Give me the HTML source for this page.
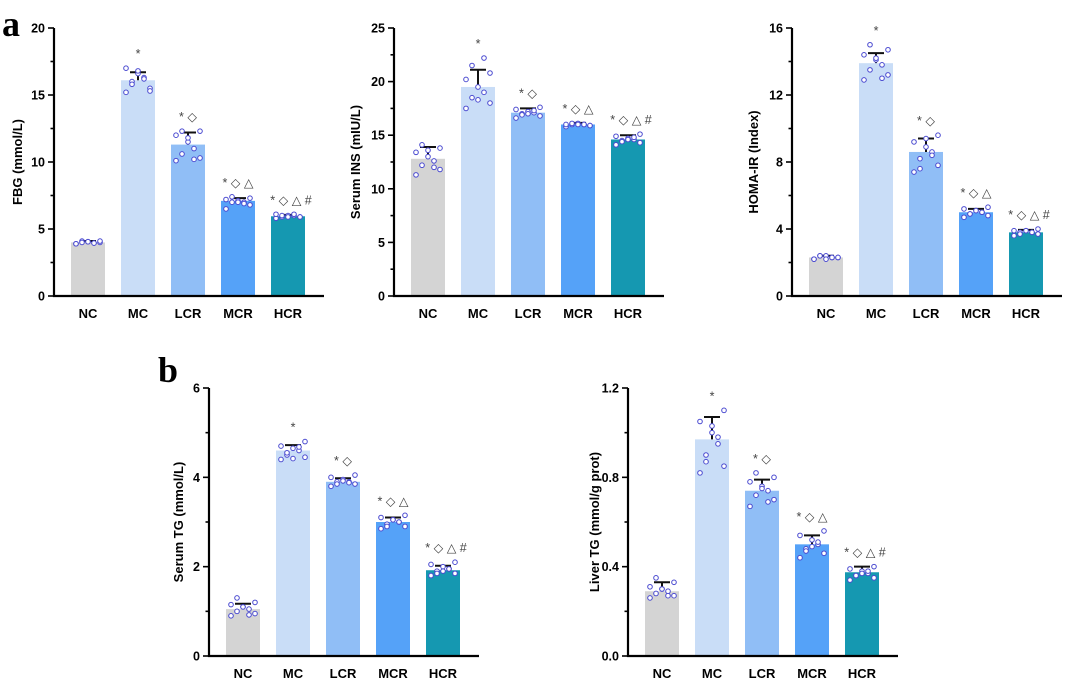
<!DOCTYPE html>
<html><head><meta charset="utf-8"><style>
html,body{margin:0;padding:0;background:#fff}
svg{display:block;font-family:"Liberation Sans",Arial,sans-serif}
</style></head><body>
<svg id="fig" width="1065" height="680" viewBox="0 0 1065 680" xmlns="http://www.w3.org/2000/svg">
<text x="2" y="36" font-family="Liberation Serif" font-weight="bold" font-size="36">a</text>
<text x="158" y="382" font-family="Liberation Serif" font-weight="bold" font-size="36">b</text>
</svg>
<script>
const categories = ["NC","MC","LCR","MCR","HCR"];
const fbgMeans = [4.0,16.1,11.3,7.1,5.95];
const fbgErr = [0.1,0.6,0.9,0.2,0.1];
const fbgPts = [[3.9,4.0,4.1,3.95,4.05,3.9,4.1,4.0,3.95,4.05],[15.2,15.5,16.0,16.3,16.6,17.0,15.3,15.8,16.2,16.8],[10.1,10.3,10.6,11.0,11.5,12.0,12.3,12.3,10.2,11.8],[6.5,6.8,7.0,7.0,7.1,7.2,7.3,7.4,6.9,7.0],[5.8,5.9,5.9,6.0,6.0,6.1,5.9,6.0,6.1,5.9]];
const insMeans = [12.8,19.5,17.1,16.0,14.6];
const insErr = [1.1,1.6,0.4,0.15,0.4];
const insPts = [[11.3,11.8,12.2,12.6,13.0,13.4,13.8,14.1,12.0,13.6],[17.5,18.0,18.5,19.0,19.5,20.2,20.8,21.5,22.2,18.3],[16.6,16.8,17.0,17.1,17.2,17.4,17.6,16.9,17.3,17.0],[15.8,15.9,16.0,16.0,16.1,16.0,15.9,16.1,16.0,16.0],[14.1,14.3,14.5,14.6,14.7,14.9,15.1,14.4,14.8,14.6]];
const homaMeans = [2.3,13.9,8.6,5.0,3.8];
const homaErr = [0.1,0.6,0.8,0.2,0.15];
const homaPts = [[2.2,2.3,2.4,2.3,2.4,2.2,2.3,2.4,2.3,2.2],[12.9,13.2,13.5,13.8,14.1,14.4,14.7,15.0,13.0,14.2],[7.4,7.8,8.2,8.6,8.9,9.2,9.6,7.6,8.4,9.4],[4.7,4.8,4.9,5.0,5.1,5.2,5.3,4.9,5.0,5.1],[3.6,3.7,3.8,3.8,3.9,3.9,4.0,3.7,3.8,3.9]];
const stgMeans = [1.05,4.6,3.9,3.0,1.92];
const stgErr = [0.12,0.12,0.08,0.1,0.1];
const stgPts = [[0.9,0.95,1.0,1.05,1.1,1.15,1.2,1.3,0.92,1.1],[4.4,4.45,4.5,4.6,4.65,4.7,4.8,4.55,4.68,4.42],[3.8,3.85,3.9,3.9,3.95,4.0,4.05,3.85,3.88,3.92],[2.85,2.9,2.95,3.0,3.05,3.1,3.15,2.9,3.0,3.05],[1.8,1.85,1.9,1.95,2.0,2.05,2.1,1.85,1.95,1.9]];
const ltgMeans = [0.29,0.97,0.74,0.50,0.375];
const ltgErr = [0.04,0.1,0.05,0.04,0.025];
const ltgPts = [[0.26,0.27,0.28,0.29,0.30,0.31,0.33,0.35,0.27,0.30],[0.82,0.85,0.9,0.95,1.0,1.05,1.1,0.87,0.98,1.03],[0.67,0.7,0.72,0.74,0.76,0.78,0.8,0.82,0.69,0.75],[0.44,0.46,0.48,0.5,0.52,0.54,0.56,0.47,0.51,0.49],[0.34,0.35,0.36,0.37,0.38,0.39,0.4,0.36,0.38,0.37]];
const marks = ["","*","* ◇","* ◇ △","* ◇ △ #"];
const colors = ["#d4d4d4","#c9ddf7","#90bef6","#55a2f8","#1598b1"];
const jit = [-12,12,-6,6,0,-12,12,-6,6,0];

const svg = document.getElementById('fig');
const NS = "http://www.w3.org/2000/svg";
function el(tag, attrs, parent){const e=document.createElementNS(NS,tag);for(const k in attrs)e.setAttribute(k,attrs[k]);(parent||svg).appendChild(e);return e;}

function panel(name, ax, top, bot, ymax, major, minor, fmt, title, titleX, means, errs, pts){
  const g = el('g',{});
  
  
  const y = v => bot - v/ymax*(bot-top);
  const xc = i => ax + 34 + i*50;
  for(let i=0;i<categories.length;i++){
    const b = el('rect',{x:xc(i)-17,y:y(means[i]),width:34,height:bot-y(means[i]),fill:colors[i]},g);
    
    
    const e1=y(means[i]+errs[i]);
    const eb = el('path',{d:`M${xc(i)} ${y(means[i])}V${e1}M${xc(i)-8} ${e1}H${xc(i)+8}`,stroke:'#111','stroke-width':2,fill:'none'},g);
    
    
    pts[i].forEach((v,j)=>{
      const c = el('circle',{cx:xc(i)+jit[j],cy:y(v),r:2.3,fill:'#fff',stroke:'#4a4ad0','stroke-width':1},g);
      
      
    });
    if(marks[i]){
      const ty = Math.min(y(means[i]+errs[i]), y(Math.max(...pts[i]))) - 10;
      const t = el('text',{x:xc(i)+(i==4?3:0),y:ty,'text-anchor':'middle','font-size':12.5,fill:'#444'},g);
      t.textContent = marks[i];
      
      
    }
    const l = el('text',{x:xc(i),y:bot+22,'text-anchor':'middle','font-size':13,'font-weight':'bold',fill:'#000'},g);
    l.textContent = categories[i];
    
    
  }
  const axis = el('path',{d:`M${ax} ${top}V${bot}H${ax+270}`,stroke:'#000','stroke-width':2.2,fill:'none'},g);
  
  
  for(let v=0; v<=ymax+1e-9; v+=minor){
    const isMaj = Math.abs(v/major - Math.round(v/major))<1e-6;
    el('line',{x1:ax-(isMaj?6:3.5),x2:ax,y1:y(v),y2:y(v),stroke:'#000','stroke-width':1.6},g);
    if(isMaj){
      const t = el('text',{x:ax-9,y:y(v)+4.5,'text-anchor':'end','font-size':12.5,'font-weight':'bold'},g);
      t.textContent = fmt(v);
      
      
    }
  }
  const yt = el('text',{x:titleX,y:(top+bot)/2,'text-anchor':'middle','font-size':13,'font-weight':'bold',transform:`rotate(-90 ${titleX} ${(top+bot)/2})`},g);
  yt.textContent = title;
  
  
}
const i0 = v => String(Math.round(v));
const f1 = v => v.toFixed(1);
panel('fbg-chart',54,28,296,20,5,2.5,i0,'FBG (mmol/L)',22,fbgMeans,fbgErr,fbgPts);
panel('serum-ins-chart',394,28,296,25,5,2.5,i0,'Serum INS (mIU/L)',360,insMeans,insErr,insPts);
panel('homa-ir-chart',792,28,296,16,4,2,i0,'HOMA-IR (Index)',758,homaMeans,homaErr,homaPts);
panel('serum-tg-chart',209,388,656,6,2,1,i0,'Serum TG (mmol/L)',183,stgMeans,stgErr,stgPts);
panel('liver-tg-chart',628,388,656,1.2,0.4,0.2,f1,'Liver TG (mmol/g prot)',599,ltgMeans,ltgErr,ltgPts);
</script>
</body></html>
